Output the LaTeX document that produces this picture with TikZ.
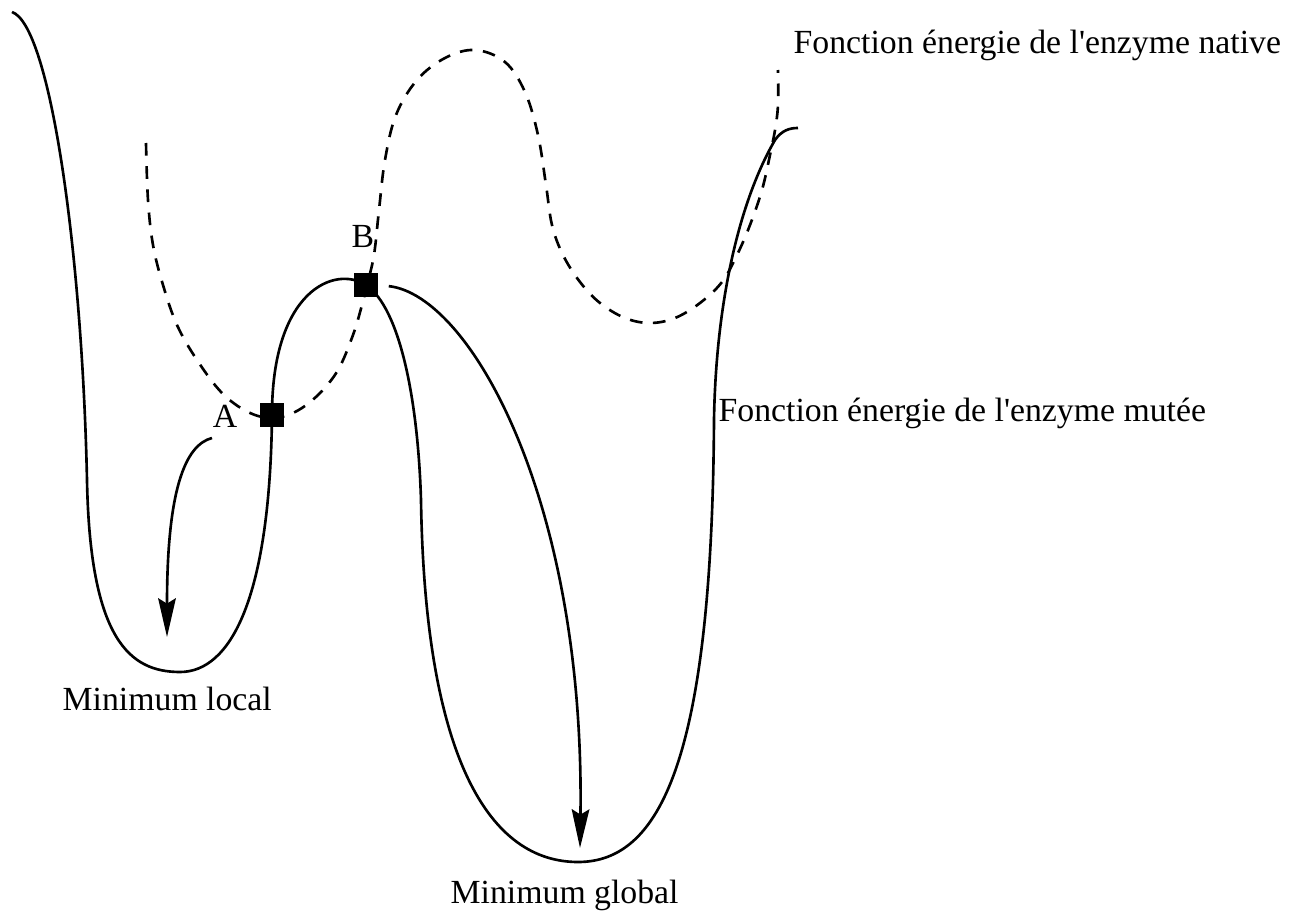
\documentclass[tikz,border=0pt]{standalone}
\usepackage{fontspec}
\setmainfont{Liberation Serif}
\usepackage{tikz}
\usetikzlibrary{arrows.meta, positioning}

\begin{document}
\begin{tikzpicture}[
    x=0.01cm, y=-0.01cm,
    >={Stealth[length=11pt, width=5pt, inset=1.5pt]},
    mutee/.style={line width=0.75pt, black},
    native/.style={line width=0.75pt, black, dash pattern=on 3.6pt off 3pt},
    etat/.style={rectangle, fill=black, minimum size=6.6pt, inner sep=0pt},
    lbl/.style={font=\fontsize{9.6}{11.5}\selectfont, inner sep=0pt},
    fleche/.style={->, line width=0.75pt}
]
\useasboundingbox (0,0) rectangle (1308,915);
% fonction energie de l'enzyme mutee
\draw[mutee] (12,12) .. controls (50,25) and (82,250) .. (87,480)
    .. controls (90,640) and (130,672) .. (180,672)
    .. controls (230,672) and (270,600) .. (272,415)
    .. controls (272,290) and (335,265) .. (366,285)
    .. controls (400,308) and (418,400) .. (421,500)
    .. controls (425,760) and (490,862) .. (578,862)
    .. controls (660,862) and (712,760) .. (714,420)
    .. controls (716,300) and (740,200) .. (775,140)
    .. controls (782,130) and (790,128) .. (798,128);
% fonction energie de l'enzyme native
\draw[native] plot[smooth, tension=0.6] coordinates {
    (146,143) (148,200) (153,245) (163,285) (177,325) (197,360) (222,393)
    (248,412) (272,418) (295,412) (318,395) (338,370) (353,335) (362,305)
    (367,285) (374,255) (379,210) (385,160) (396,115) (417,80) (445,58)
    (475,50) (505,62) (525,92) (538,135) (546,185) (552,225) (563,255)
    (580,282) (600,303) (625,318) (650,323) (675,318) (700,303) (722,282)
    (737,255) (750,225) (762,190) (770,155) (775,130) (778,105) (778,70)};
\node[etat] (A) at (272,415) {};
\node[etat] (B) at (366,285) {};
\node[lbl, anchor=base east] (labA) at (238,427) {A};
\node[lbl, anchor=base west] (labB) at (351,248) {B};
\coordinate (depart) at (212,438);
\coordinate (minloc) at (167,637);
\coordinate (minglob) at (580,848);
\draw[fleche] (depart) .. controls (185,445) and (167,490) .. (minloc);
\draw[fleche, shorten <=3pt] (B.east) .. controls (470,295) and (585,500) .. (minglob);
\node[lbl, anchor=base west] (loc) at (62,710) {Minimum local};
\node[lbl, anchor=base west] (glob) at (450,903) {Minimum global};
\node[lbl, anchor=base west] (mut) at (718,421) {Fonction énergie de l\textquotesingle enzyme mutée};
\node[lbl, anchor=base west] (nat) at (793,54) {Fonction énergie de l\textquotesingle enzyme native};
\end{tikzpicture}
\end{document}
